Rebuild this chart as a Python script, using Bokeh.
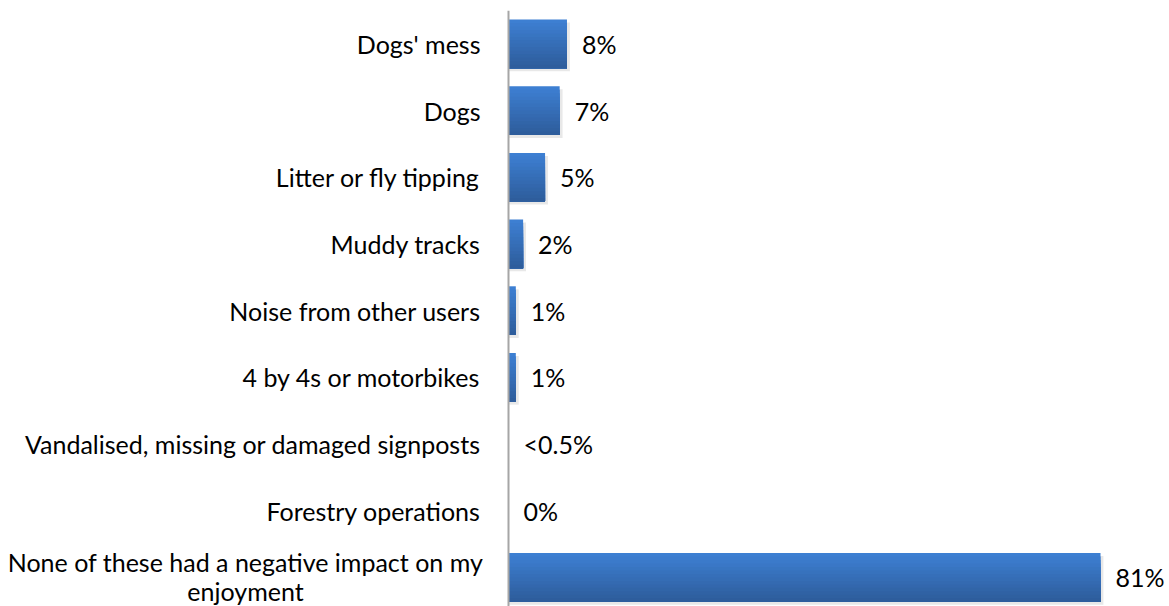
from bokeh.plotting import figure
from bokeh.models import Range1d, Span
from bokeh.core.properties import value
from bokeh.embed import file_html
from bokeh.resources import INLINE
import numpy as np

categories = [
    "Dogs' mess",
    "Dogs",
    "Litter or fly tipping",
    "Muddy tracks",
    "Noise from other users",
    "4 by 4s or motorbikes",
    "Vandalised, missing or damaged signposts",
    "Forestry operations",
    "None of these had a negative impact on my\nenjoyment",
]
values = [8, 7, 5, 2, 1, 1, 0, 0, 81]
value_labels = ["8%", "7%", "5%", "2%", "1%", "1%", "<0.5%", "0%", "81%"]

FONT = "Lato"
FS = "25px"
n = len(categories)
pos = np.arange(n)
vals = np.array(values, dtype=float)

W, H = 1169, 606
AXIS_X = 508            # screen position of the category axis
PX_PER_UNIT = 592 / 81  # horizontal scale
p = figure(width=W, height=H, output_backend="svg", toolbar_location=None,
           x_range=Range1d(-AXIS_X / PX_PER_UNIT, (W - AXIS_X) / PX_PER_UNIT),
           y_range=Range1d(8.436, -0.5),
           x_axis_location=None, y_axis_location=None,
           min_border_left=0, min_border_right=0,
           min_border_top=10, min_border_bottom=0)
p.outline_line_color = None
p.xgrid.visible = False
p.ygrid.visible = False
p.background_fill_color = "white"

h = 0.73
has_bar = vals > 0
# soft shadow
p.hbar(y=pos[has_bar] + 0.045, left=0, right=vals[has_bar] + 0.4, height=h,
       fill_color="black", fill_alpha=0.09, line_color=None)

# vertical gradient: overlapping strips, each running to the bar bottom
N = 14
top = np.array([0x3d, 0x7f, 0xd2])
bot = np.array([0x2e, 0x5d, 0x9c])
d = h / N
for k in range(N):
    t = k / (N - 1)
    c = top + (bot - top) * t
    col = "#%02x%02x%02x" % tuple(int(round(v)) for v in c)
    hk = h - k * d
    p.hbar(y=pos - h / 2 + k * d + hk / 2, left=0, right=vals,
           height=hk, fill_color=col, line_color=None)

# category axis line
p.add_layout(Span(location=0, dimension="height", line_color="#a6a6a6", line_width=2))

# value labels
p.text(x=vals, y=pos, text=value_labels, x_offset=15,
       text_align="left", text_baseline="middle",
       text_font=value(FONT), text_font_size=FS, text_color="#000000")

# category labels (single-line ones right aligned next to the axis)
p.text(x=np.zeros(n - 1), y=pos[:-1], text=categories[:-1], x_offset=-28,
       text_align="right", text_baseline="middle",
       text_font=value(FONT), text_font_size=FS, text_color="#000000")
# two-line category label, lines centred on each other
p.text(x=[0], y=[pos[-1]], text=[categories[-1]], x_offset=-263, y_offset=-1,
       text_align="center", text_baseline="middle", text_line_height=0.95,
       text_font=value(FONT), text_font_size=FS, text_color="#000000")

open("out.html", "w").write(file_html(p, INLINE))
